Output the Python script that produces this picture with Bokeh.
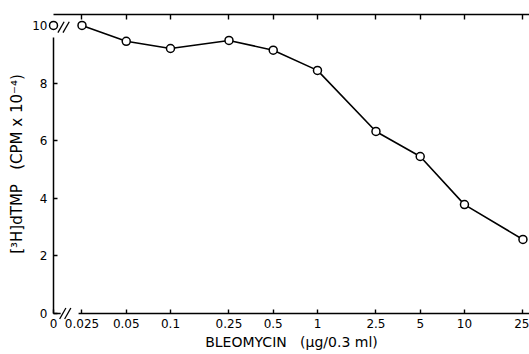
from bokeh.plotting import figure
from bokeh.models import LogAxis, FixedTicker, Range1d
from bokeh.embed import file_html
from bokeh.resources import INLINE

# ---- data ----
dose_tick_labels = ["0", "0.025", "0.05", "0.1", "0.25", "0.5", "1", "2.5", "5", "10", "25"]
doses = [0.025, 0.05, 0.1, 0.25, 0.5, 1, 2.5, 5, 10, 25]
counts = [10.0, 9.45, 9.2, 9.48, 9.14, 8.44, 6.32, 5.45, 3.78, 2.57]
control_count = [10.0]          # value measured without bleomycin (dose 0)
y_ticks = [0, 2, 4, 6, 8, 10]

# ---- broken log axis: dose 0 is drawn at the left end of the axis ----
X_START = 0.016
X_END = 27.7
ZERO_POS = X_START
AXIS_GAP = (0.0179, 0.0237)       # gap in the x axis line
BREAK_BOTTOM = [0.0185, 0.0200]   # centres of the two slashes on the x axis
BREAK_TOP = [0.0180, 0.0195]      # centres of the two slashes between 0 and 0.025
SLASH_W = 1.05                    # multiplicative half-width of a slash
SLASH_H = 0.19                    # half-height of a slash (y units)
Y_AXIS_TOP = 9.58

FONT = "DejaVu Sans"
NB = "\u00a0"

p = figure(width=529, height=354, x_axis_type="log",
           x_range=Range1d(X_START, X_END), y_range=Range1d(0, 10.38),
           output_backend="svg", toolbar_location=None,
           min_border_left=53, min_border_right=0, min_border_top=14,
           min_border_bottom=41)
p.outline_line_color = None
p.xgrid.visible = False
p.ygrid.visible = False
p.background_fill_color = "white"
p.border_fill_color = "white"

# bottom axis
xa = p.xaxis[0]
xa.ticker = FixedTicker(ticks=[ZERO_POS] + doses)
xa.major_label_overrides = dict(zip([ZERO_POS] + doses, dose_tick_labels))
xa.axis_line_color = None
xa.major_tick_in = 4
xa.major_tick_out = 0
xa.major_tick_line_width = 1.4
xa.minor_tick_line_color = None
xa.major_label_standoff = 5
xa.major_label_text_font = FONT
xa.major_label_text_font_size = "12px"
xa.major_label_text_color = "black"
xa.axis_label = "BLEOMYCIN" + NB * 3 + "(\u03bcg/0.3 ml)"
xa.axis_label_text_font = FONT
xa.axis_label_text_font_size = "14px"
xa.axis_label_text_font_style = "normal"
xa.axis_label_text_color = "black"
xa.axis_label_standoff = 3

# left axis
ya = p.yaxis[0]
ya.ticker = FixedTicker(ticks=y_ticks)
ya.axis_line_color = None
ya.major_tick_in = 4
ya.major_tick_out = 0
ya.major_tick_line_width = 1.4
ya.minor_tick_line_color = None
ya.major_label_standoff = 6
ya.major_label_text_font = FONT
ya.major_label_text_font_size = "12px"
ya.major_label_text_color = "black"
ya.axis_label = "[\u00b3H]dTMP" + NB * 3 + "(CPM x 10\u207b\u2074)"
ya.axis_label_text_font = FONT
ya.axis_label_text_font_size = "15px"
ya.axis_label_text_font_style = "normal"
ya.axis_label_text_color = "black"
ya.axis_label_standoff = 3

# top axis: ticks only, no labels painted
top = LogAxis(ticker=FixedTicker(ticks=doses), major_label_text_font_size="1px",
              major_label_text_color=None,
              major_tick_in=5, major_tick_out=0, major_tick_line_width=1.4,
              minor_tick_line_color=None, axis_line_width=1.5,
              major_label_standoff=0)
p.add_layout(top, "above")

# axis lines with breaks
p.segment(x0=[ZERO_POS, ZERO_POS, AXIS_GAP[1]], y0=[0, 0, 0],
          x1=[ZERO_POS, AXIS_GAP[0], X_END], y1=[Y_AXIS_TOP, 0, 0],
          line_color="black", line_width=1.5, level="overlay")
bx0 = [c / SLASH_W for c in BREAK_BOTTOM] + [c / SLASH_W for c in BREAK_TOP]
bx1 = [c * SLASH_W for c in BREAK_BOTTOM] + [c * SLASH_W for c in BREAK_TOP]
by0 = [-SLASH_H] * 2 + [control_count[0] - SLASH_H - 0.06] * 2
by1 = [SLASH_H] * 2 + [control_count[0] + SLASH_H - 0.06] * 2
p.segment(x0=bx0, y0=by0, x1=bx1, y1=by1, line_color="black", line_width=1.3,
          level="overlay")

# data
p.line(doses, counts, line_color="black", line_width=1.6)
p.scatter(doses, counts, size=8, marker="circle", fill_color="white",
          line_color="black", line_width=1.5)
p.scatter([ZERO_POS], control_count, size=8, marker="circle", fill_color="white",
          line_color="black", line_width=1.5, level="overlay")

open("out.html", "w").write(file_html(p, INLINE))
